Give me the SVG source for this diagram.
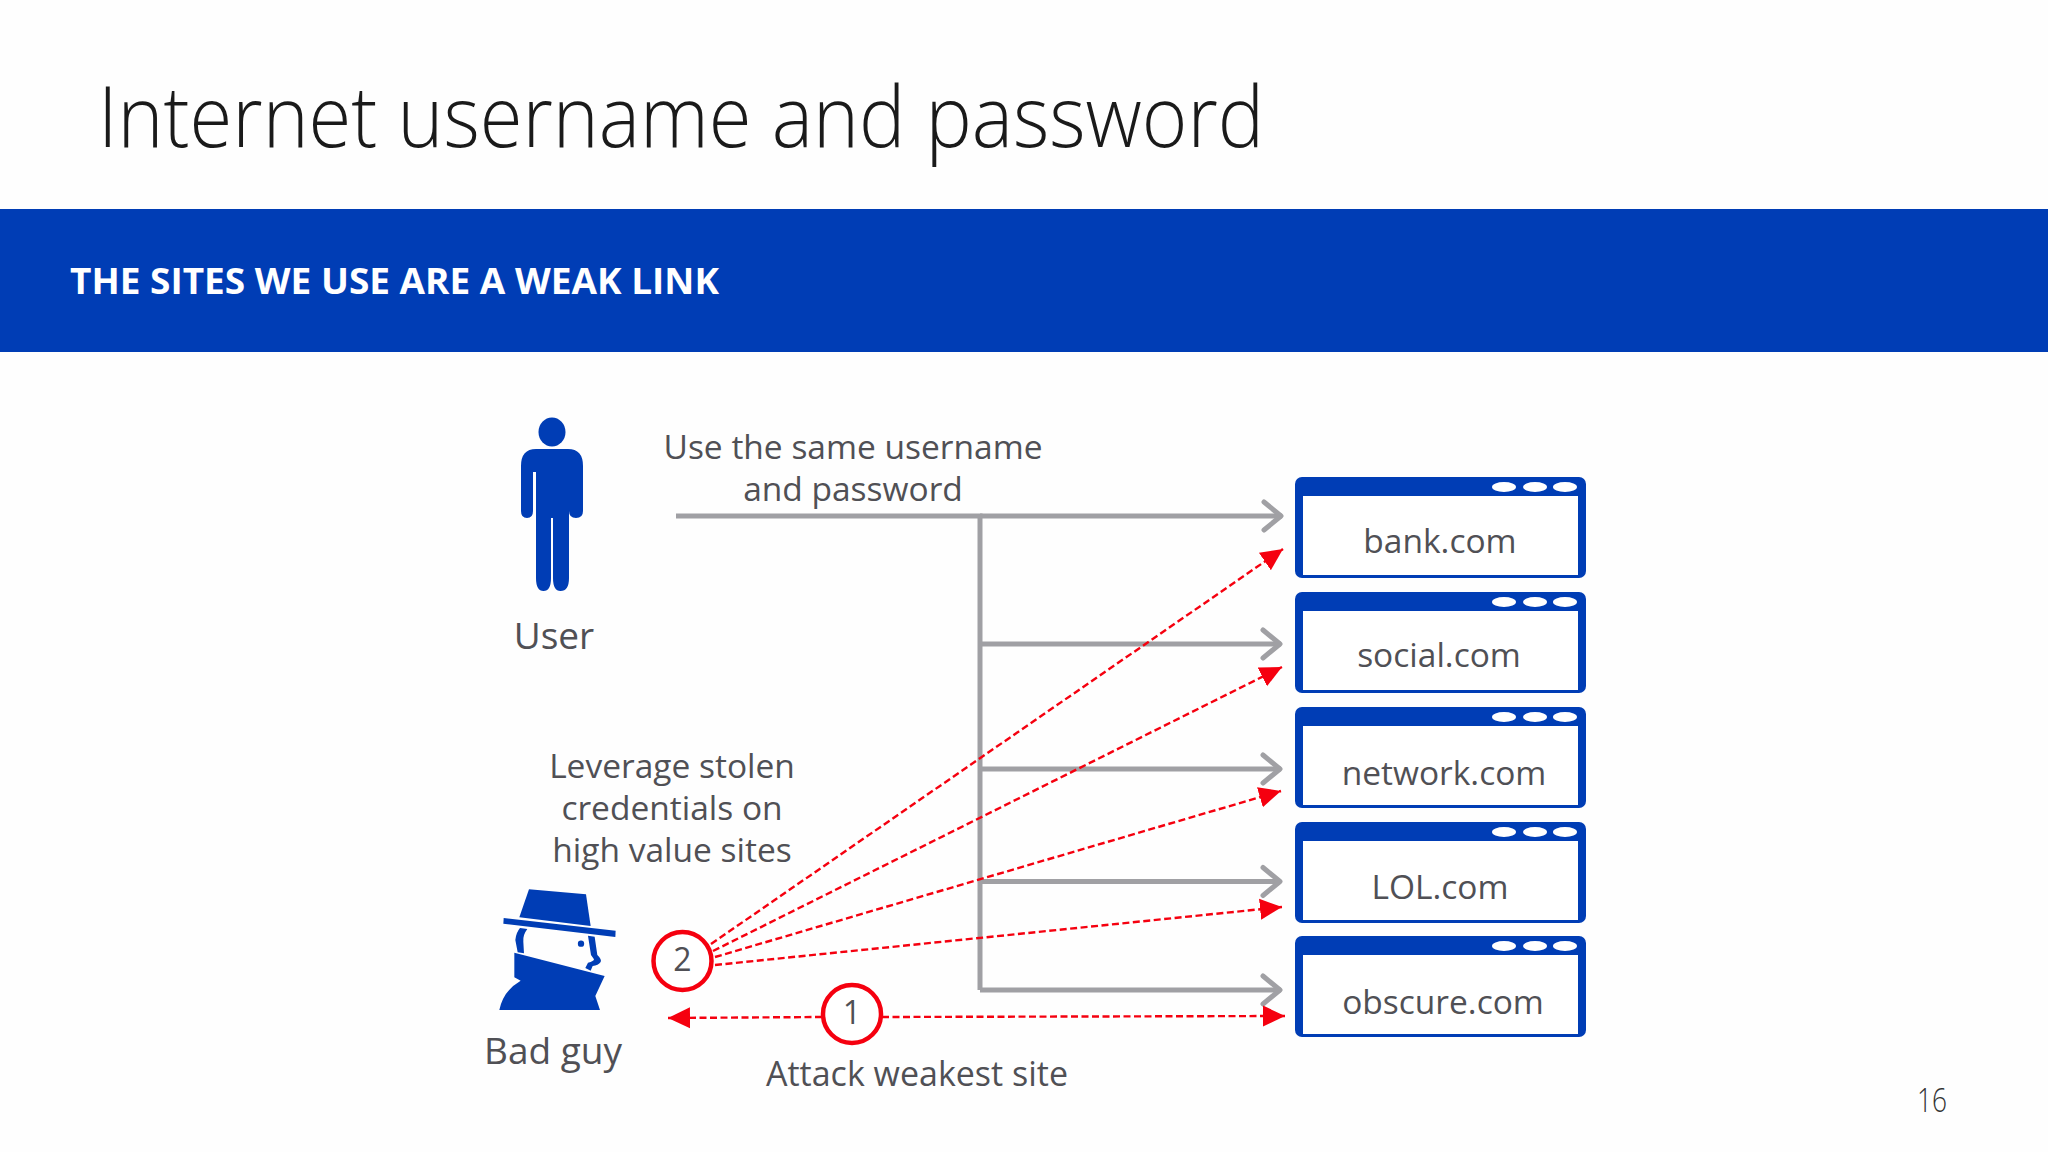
<svg xmlns="http://www.w3.org/2000/svg" width="2048" height="1152" viewBox="0 0 2048 1152">
<style>
text{font-family:"Open Sans","Noto Sans","Liberation Sans",sans-serif;fill:#505055;font-size:33.500px}
.m{text-anchor:middle}
.blue{fill:#003db5}
.gray{stroke:#a0a0a4;stroke-width:5;fill:none}
.red{stroke:#f5000f;stroke-width:2.400;stroke-dasharray:7 3.500;fill:none;marker-end:url(#rh)}
.ring{fill:#fff;stroke:#f5000f;stroke-width:4.500}
.inner{fill:#fff}
.dot{fill:#fff}
.big{font-size:37px}
</style>
<defs>
<marker id="ga" markerUnits="userSpaceOnUse" markerWidth="30" markerHeight="40" refX="22" refY="20" orient="auto"><path d="M4 6 L21 20 L4 34" fill="none" stroke="#a0a0a4" stroke-width="5" stroke-linecap="round" stroke-linejoin="round"/></marker>
<marker id="rh" markerUnits="userSpaceOnUse" markerWidth="26" markerHeight="26" refX="22" refY="12" orient="auto"><path d="M0 1.500 L22 12 L0 22.500 Z" fill="#f5000f"/></marker>
<g id="win">
<rect x="1295" y="0" width="291" height="101" rx="7" class="blue"/>
<rect x="1303" y="19" width="275" height="79" class="inner"/>
<ellipse cx="1504" cy="10" rx="12" ry="5" class="dot"/>
<ellipse cx="1535" cy="10" rx="12" ry="5" class="dot"/>
<ellipse cx="1565" cy="10" rx="12" ry="5" class="dot"/>
</g>
</defs>
<rect width="2048" height="1152" fill="#fefefe"/>
<text x="98" y="147" style="font-size:84px;font-weight:300;fill:#1a1a1a" textLength="1166" lengthAdjust="spacingAndGlyphs">Internet username and password</text>
<rect y="209" width="2048" height="143" fill="#003db5"/>
<text x="70" y="294" style="font-size:35px;font-weight:700;fill:#fff" textLength="649" lengthAdjust="spacingAndGlyphs">THE SITES WE USE ARE A WEAK LINK</text>
<g id="connectors">
<path class="gray" d="M676 516 H980 V990"/>
<path class="gray" d="M980 516 H1282" marker-end="url(#ga)"/>
<path class="gray" d="M980 644 H1281" marker-end="url(#ga)"/>
<path class="gray" d="M980 769 H1281" marker-end="url(#ga)"/>
<path class="gray" d="M980 881.500 H1281" marker-end="url(#ga)"/>
<path class="gray" d="M980 990 H1281" marker-end="url(#ga)"/>
<path class="red" d="M711 944 L1283 549"/>
<path class="red" d="M713 951 L1282 667"/>
<path class="red" d="M715 957 L1281 791"/>
<path class="red" d="M715 965 L1282 907"/>
<path class="red" d="M822 1017 L668 1018"/>
<path class="red" d="M882 1017 L1285 1016"/>
</g>
<g id="user">
<ellipse cx="552" cy="432" rx="13.500" ry="14.500" class="blue"/>
<path class="blue" d="M536 449 H568 Q583 449 583 466 V511 Q583 518 576 518 Q569 518 569 511 V472 V578 Q569 591 560.500 591 Q553 591 553 578 V518 H551 V578 Q551 591 543.500 591 Q536 591 536 578 V472 H533 V511 Q533 518 527 518 Q521 518 521 511 V466 Q521 449 536 449 Z"/>
<text class="m big" x="554" y="649">User</text>
</g>
<g id="bad-guy">
<g transform="translate(470 860) scale(.3333)" class="blue">
<path d="M177 88 L348 103 L362 198 L148 172 Z"/>
<path d="M101 174 L437 212 L436 231 L100 191 Z"/>
<path d="M150 204 L172 207 Q158 225 160 245 L162 280 L143 277 L136 240 Q138 218 150 204 Z"/>
<circle cx="333" cy="251" r="9.500"/>
<path d="M354 227 L374 230 L382 285 Q396 298 392 306 Q385 316 368 318 L362 332 L346 324 L354 308 Q372 304 372 298 L363 285 Z"/>
<path d="M133 278 L404 348 L376 408 L390 450 L88 450 Q100 392 152 362 L133 352 Z"/>
</g>
<text class="m big" x="553" y="1064">Bad guy</text>
</g>
<g id="n2"><circle class="ring" cx="682.500" cy="961" r="29"/><text class="m" x="682.500" y="971" style="font-size:32px">2</text></g>
<g id="n1"><circle class="ring" cx="852" cy="1014" r="29"/><text class="m" x="852" y="1024" style="font-size:32px">1</text></g>
<g id="use-label"><text class="m" x="853" y="459">Use the same username</text><text class="m" x="853" y="501">and password</text></g>
<g id="leverage-label"><text class="m" x="672" y="777.500">Leverage stolen</text><text class="m" x="672" y="819.500">credentials on</text><text class="m" x="672" y="861.500">high value sites</text></g>
<g id="attack-label"><text class="m" x="917" y="1085.500" style="font-size:34px">Attack weakest site</text></g>
<g id="bank"><use href="#win" y="477"/><text class="m" x="1440" y="553">bank.com</text></g>
<g id="social"><use href="#win" y="592"/><text class="m" x="1439" y="667">social.com</text></g>
<g id="network"><use href="#win" y="707"/><text class="m" x="1444" y="785">network.com</text></g>
<g id="lol"><use href="#win" y="822"/><text class="m" x="1440" y="899">LOL.com</text></g>
<g id="obscure"><use href="#win" y="936"/><text class="m" x="1443" y="1014">obscure.com</text></g>
<text x="1917" y="1112" style="font-size:33px;font-weight:300;fill:#333" textLength="30" lengthAdjust="spacingAndGlyphs">16</text>
</svg>
